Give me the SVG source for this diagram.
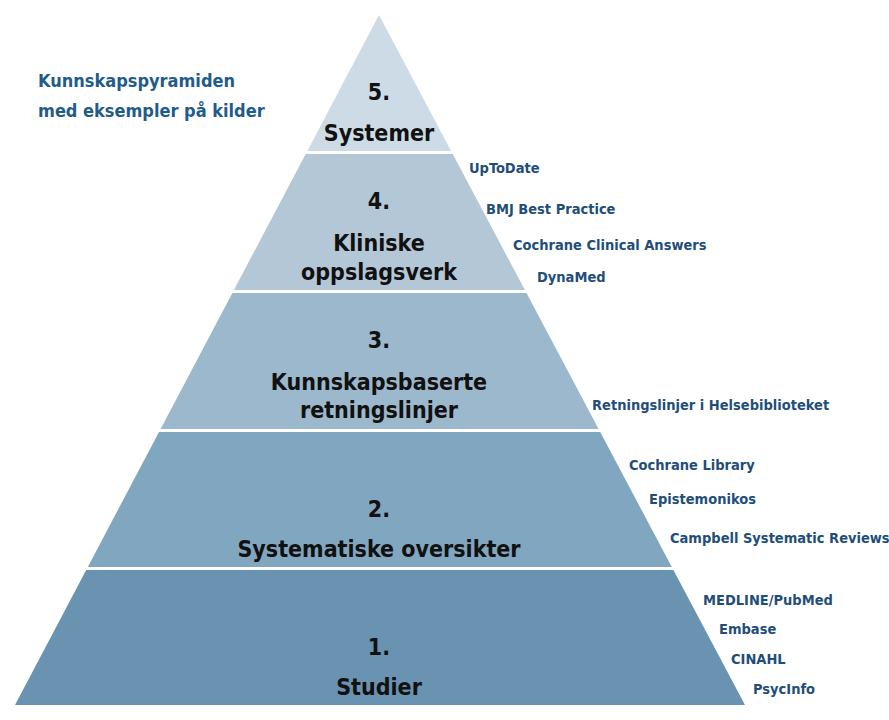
<svg xmlns="http://www.w3.org/2000/svg" width="889" height="720" viewBox="0 0 889 720">
<style>
.t{font-family:"DejaVu Sans Condensed","Liberation Sans",sans-serif;font-weight:bold;font-size:23px;fill:#111;text-anchor:middle}
.s{font-family:"DejaVu Sans Condensed","Liberation Sans",sans-serif;font-weight:bold;font-size:14.5px;fill:#1f4e79}
.h{font-family:"DejaVu Sans Condensed","Liberation Sans",sans-serif;font-weight:bold;font-size:18px;fill:#1f5c8a}
</style>
<rect width="889" height="720" fill="#fff"/>
<g id="title"><text class="h" x="38" y="87">Kunnskapspyramiden</text><text class="h" x="38" y="117">med eksempler på kilder</text></g>
<g id="level5"><polygon points="379,15 451.1,151 307.3,151" fill="#cddbe6"/><text class="t" x="379" y="100">5.</text><text class="t" x="379" y="141">Systemer</text></g>
<g id="level4"><polygon points="305.7,154 452.7,154 524.9,290 233.9,290" fill="#b3c7d7"/><text class="t" x="379" y="209">4.</text><text class="t" x="379" y="251">Kliniske</text><text class="t" x="379" y="280">oppslagsverk</text>
<text class="s" x="469" y="173">UpToDate</text><text class="s" x="486" y="214">BMJ Best Practice</text><text class="s" x="513" y="250">Cochrane Clinical Answers</text><text class="s" x="537" y="282">DynaMed</text></g>
<g id="level3"><polygon points="232.4,293 526.5,293 598.6,429 160.6,429" fill="#9cb8cc"/><text class="t" x="379" y="348">3.</text><text class="t" x="379" y="390">Kunnskapsbaserte</text><text class="t" x="379" y="418">retningslinjer</text>
<text class="s" x="592" y="410">Retningslinjer i Helsebiblioteket</text></g>
<g id="level2"><polygon points="159,432 600.2,432 671.8,567 87.8,567" fill="#81a6bf"/><text class="t" x="379" y="517">2.</text><text class="t" x="379" y="557">Systematiske oversikter</text>
<text class="s" x="629" y="470">Cochrane Library</text><text class="s" x="649" y="504">Epistemonikos</text><text class="s" x="670" y="543">Campbell Systematic Reviews</text></g>
<g id="level1"><polygon points="86.2,570 673.4,570 745,705 15,705" fill="#6993b1"/><text class="t" x="379" y="655">1.</text><text class="t" x="379" y="695">Studier</text>
<text class="s" x="703" y="605">MEDLINE/PubMed</text><text class="s" x="719" y="634">Embase</text><text class="s" x="731" y="664">CINAHL</text><text class="s" x="753" y="694">PsycInfo</text></g>
<g id="connectors"/>
</svg>
